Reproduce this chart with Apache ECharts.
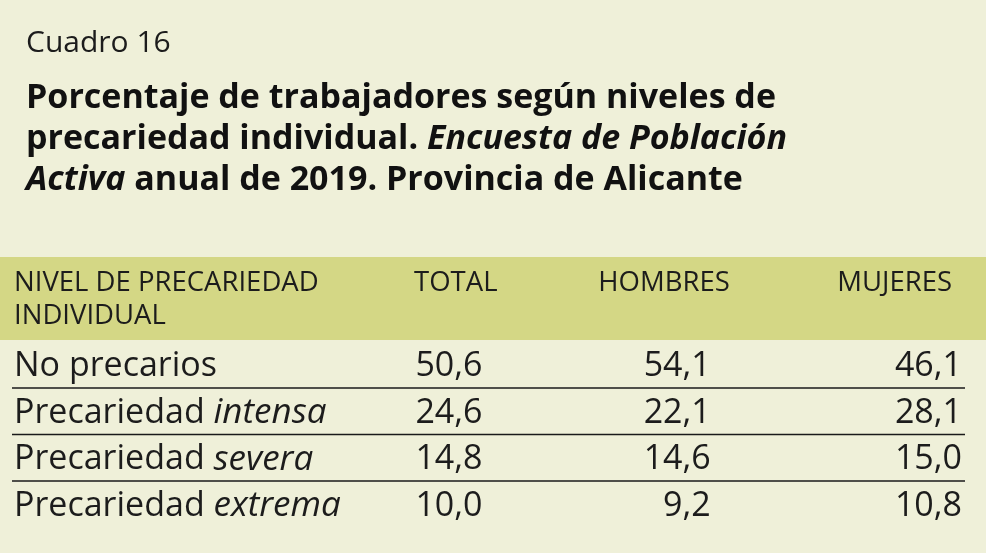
<!DOCTYPE html>
<html><head><meta charset="utf-8">
<script src="https://cdn.jsdelivr.net/npm/echarts@6/dist/echarts.min.js"></script>
<style>html,body{margin:0;padding:0;background:#EFF0D9;}#c{width:986px;height:553px;}</style>
</head><body><div id="c"></div>
<script>
// ---- data ----
const caption = 'Cuadro 16';
const titleRich = '{b|Porcentaje de trabajadores según niveles de}\n{b|precariedad individual. }{bi|Encuesta de Población}\n{bi|Activa}{b| anual de 2019. Provincia de Alicante}';
const columns = ['NIVEL DE PRECARIEDAD\nINDIVIDUAL', 'TOTAL', 'HOMBRES', 'MUJERES'];
const rowBase = ['No precarios', 'Precariedad', 'Precariedad', 'Precariedad'];
const rowEmph = ['', 'intensa', 'severa', 'extrema'];
const totalValues = [50.6, 24.6, 14.8, 10.0];
const menValues = [54.1, 22.1, 14.6, 9.2];
const womenValues = [46.1, 28.1, 15.0, 10.8];

// ---- build ----
const valueCols = [totalValues, menValues, womenValues];
const rowNames = rowBase.map((b, i) => rowEmph[i] ? b + ' ' + rowEmph[i] : b);
const cellData = [];
rowBase.forEach((b, r) => {
  cellData.push([0, r, 0]);
  valueCols.forEach((vals, k) => cellData.push([k + 1, r, vals[r]]));
});
const headerData = columns.map((c, i) => [i, 0]);
const fmt = v => v.toFixed(1).replace('.', ',');

const FONT = '"Open Sans", sans-serif';
const INK = '#1c1c1c';
const valueNudge = [0, -6, -16, -3];
const headerNudge = [0, 9, 3, -13];

const chart = echarts.init(document.getElementById('c'), null, {renderer: 'canvas'});
chart.setOption({
  backgroundColor: '#EFF0D9',
  animation: false,
  title: [
    {text: caption, left: 26, top: 28, padding: 0,
     textStyle: {fontFamily: FONT, fontSize: 30, fontWeight: 'normal', color: INK, lineHeight: 30}},
    {text: titleRich, left: 26, top: 78, padding: 0,
     textStyle: {fontFamily: FONT, fontSize: 34, fontWeight: 'bold', color: '#111', lineHeight: 41,
       rich: {
         b: {fontFamily: FONT, fontSize: 34, fontWeight: 'bold', color: '#111', lineHeight: 41},
         bi: {fontFamily: FONT, fontSize: 34, fontWeight: 'bold', fontStyle: 'italic', color: '#111', lineHeight: 41}
       }}}
  ],
  graphic: [{type: 'rect', left: 0, top: 257, z: -10, shape: {width: 986, height: 83}, style: {fill: '#D4D785'}}],
  grid: {left: 12, right: 21, top: 341.5, height: 186},
  xAxis: {type: 'category', data: columns, show: false},
  yAxis: {type: 'category', data: rowNames, inverse: true, show: false},
  series: [
    {
      type: 'custom', data: cellData, silent: true,
      dimensions: ['col', 'row', 'val'],
      encode: {x: 0, y: 1},
      renderItem: function (params, api) {
        const c = api.value(0), r = api.value(1);
        const p = api.coord([c, r]);
        const bw = api.size([1, 0])[0];
        const bh = api.size([0, 1])[1];
        const cs = params.coordSys;
        const children = [];
        if (c === 0) {
          const txt = rowEmph[r] ? '{n|' + rowBase[r] + ' }{i|' + rowEmph[r] + '}' : '{n|' + rowBase[r] + '}';
          children.push({type: 'text', style: {
            text: txt, x: p[0] - bw / 2 + 2, y: p[1] + 2, align: 'left', verticalAlign: 'middle',
            fill: INK, font: '34px ' + FONT,
            rich: {n: {fontFamily: FONT, fontSize: 34, fill: INK}, i: {fontFamily: FONT, fontSize: 35, fontStyle: 'italic', fill: INK}}
          }});
          if (r < rowBase.length - 1) {
            children.push({type: 'line', shape: {x1: cs.x, y1: p[1] + bh / 2, x2: cs.x + cs.width, y2: p[1] + bh / 2},
              style: {stroke: '#1a1a1a', lineWidth: 1.3}});
          }
        } else {
          children.push({type: 'text', style: {
            text: fmt(api.value(2)), x: p[0] + bw / 2 + valueNudge[c], y: p[1] + 2,
            align: 'right', verticalAlign: 'middle', fill: INK, font: '34px ' + FONT
          }});
        }
        return {type: 'group', children: children};
      }
    },
    {
      type: 'custom', data: headerData, silent: true,
      renderItem: function (params, api) {
        const c = api.value(0);
        const p = api.coord([c, 0]);
        const bw = api.size([1, 0])[0];
        const top = params.coordSys.y;
        if (c === 0) {
          return {type: 'text', style: {
            text: columns[0], x: p[0] - bw / 2 + 2, y: top - 44 + 2, align: 'left', verticalAlign: 'middle',
            fill: INK, font: '27.5px ' + FONT, lineHeight: 33.5
          }};
        }
        return {type: 'text', style: {
          text: columns[c], x: p[0] + bw / 2 + headerNudge[c], y: top - 60.5 + 2, align: 'right', verticalAlign: 'middle',
          fill: INK, font: '27.5px ' + FONT
        }};
      }
    }
  ]
});
</script></body></html>
